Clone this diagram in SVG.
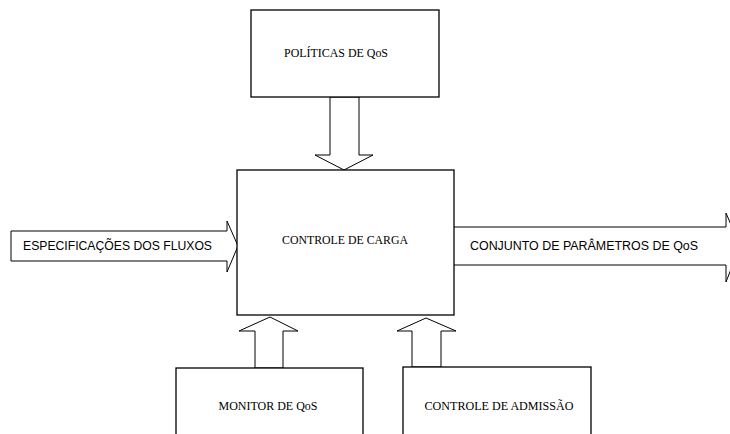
<svg xmlns="http://www.w3.org/2000/svg" width="730" height="434" viewBox="0 0 730 434">
<style>
.box{fill:#fff;stroke:#000;stroke-width:1.3}
.arr{fill:#fff;stroke:#000;stroke-width:1}
.t{font-family:"Liberation Serif",serif;font-size:12.5px;fill:#000;text-anchor:middle}
.s{font-family:"Liberation Sans",sans-serif;font-size:12px;fill:#000}
</style>
<rect width="730" height="434" fill="#fff"/>
<g id="connectors">
<polygon class="arr" points="330,97 359,97 359,155 373,155 344,170 315,155 330,155"/>
<polygon class="arr" points="11,231 227,231 227,221 238,246 227,272 227,261 11,261"/>
<path class="arr" d="M454,227 H726 L726,213 L740,246 L726,282 L726,265 H454" fill="none"/>
<polygon class="arr" points="255,368 255,331 239,331 270,317 298,331 283,331 283,368"/>
<polygon class="arr" points="412,367 412,331 397,331 426,318 456,331 441,331 441,367"/>
</g>
<g id="politicas">
<rect class="box" x="251" y="10" width="188" height="87"/>
<text class="t" x="336" y="57" textLength="104" lengthAdjust="spacingAndGlyphs">POLÍTICAS DE QoS</text>
</g>
<g id="controle-carga">
<rect class="box" x="237" y="170" width="217" height="145"/>
<text class="t" x="345" y="244" textLength="126" lengthAdjust="spacingAndGlyphs">CONTROLE DE CARGA</text>
</g>
<g id="monitor">
<rect class="box" x="176" y="368" width="187" height="80"/>
<text class="t" x="268" y="410" textLength="99" lengthAdjust="spacingAndGlyphs">MONITOR DE QoS</text>
</g>
<g id="admissao">
<rect class="box" x="403" y="367" width="188" height="80"/>
<text class="t" x="499" y="410" textLength="149" lengthAdjust="spacingAndGlyphs">CONTROLE DE ADMISSÃO</text>
</g>
<g id="labels">
<text class="s" x="23" y="250" textLength="189" lengthAdjust="spacingAndGlyphs">ESPECIFICAÇÕES DOS FLUXOS</text>
<text class="s" x="470" y="250" textLength="228" lengthAdjust="spacingAndGlyphs">CONJUNTO DE PARÂMETROS DE QoS</text>
</g>
</svg>
